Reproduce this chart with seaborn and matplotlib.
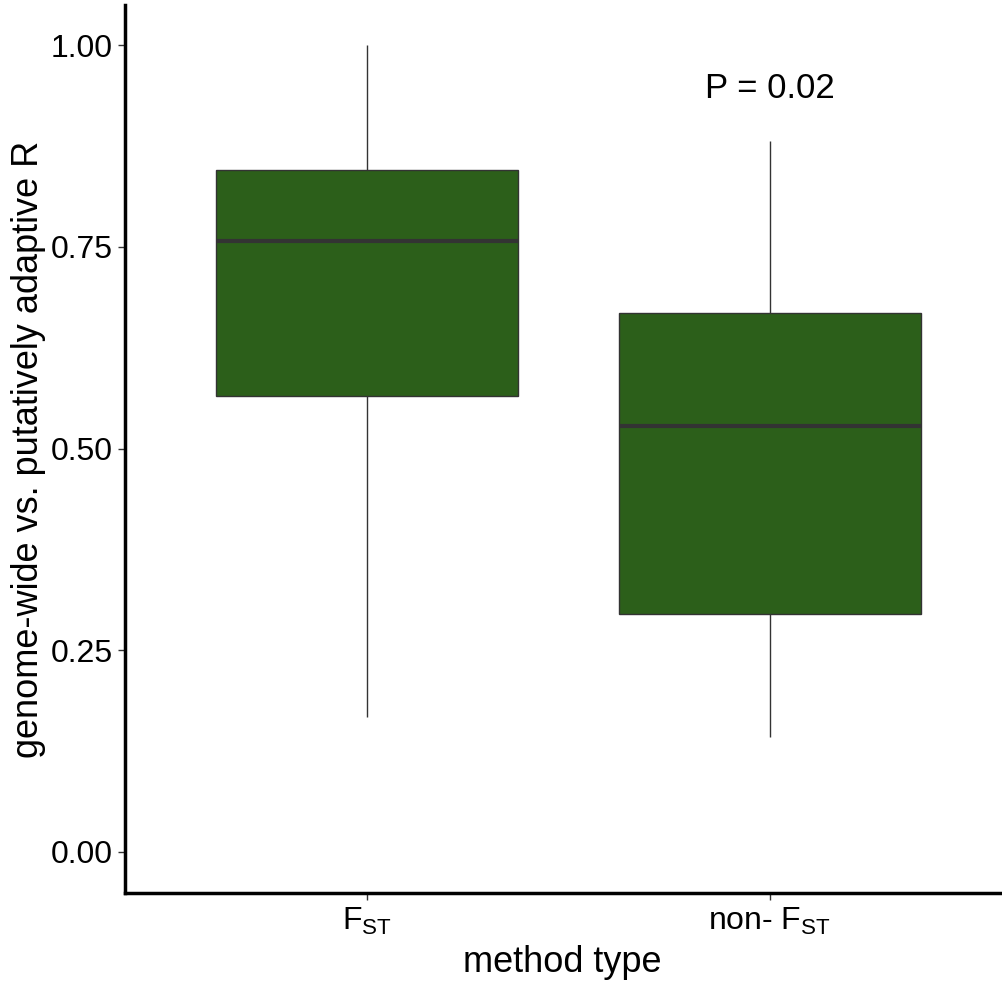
import matplotlib
matplotlib.use("Agg")
import matplotlib.pyplot as plt
import seaborn as sns
import pandas as pd
import numpy as np

categories = ["FST", "non-FST"]
tick_labels = [r"$\mathregular{F_{ST}}$", r"non- $\mathregular{F_{ST}}$"]
# five-number summaries: min, Q1, median, Q3, max
fst_values = [0.167, 0.565, 0.757, 0.845, 1.00]
nonfst_values = [0.1425, 0.295, 0.528, 0.668, 0.881]
p_label = "P = 0.02"
p_y = 0.947

df = pd.DataFrame({
    "method": [categories[0]] * len(fst_values) + [categories[1]] * len(nonfst_values),
    "R": fst_values + nonfst_values,
})

sns.set_style("white")
plt.rcParams["font.family"] = ["Liberation Sans", "DejaVu Sans"]
plt.rcParams["mathtext.fontset"] = "custom"
plt.rcParams["mathtext.rm"] = "Liberation Sans"

fig = plt.figure(figsize=(10.02, 9.88), dpi=100)
ax = fig.add_axes([125 / 1002, (988 - 893) / 988, (1000 - 125) / 1002, (893 - 5) / 988])

sns.boxplot(
    data=df, x="method", y="R", order=categories, ax=ax,
    color="#2C5F1A", saturation=1, width=0.75, whis=np.inf,
    linecolor="#333333", linewidth=1.0,
    medianprops=dict(color="#333333", linewidth=3),
    whiskerprops=dict(color="#333333", linewidth=1.0),
    capprops=dict(linewidth=0),
    boxprops=dict(edgecolor="#333333", linewidth=1.0),
)

ax.set_xlim(-0.6, 1.571)
ax.set_ylim(-0.051, 1.05)
ax.set_yticks([0, 0.25, 0.5, 0.75, 1.0])
ax.set_yticklabels(["0.00", "0.25", "0.50", "0.75", "1.00"])
ax.set_xticks([0, 1])
ax.set_xticklabels(tick_labels)

for s in ["top", "right"]:
    ax.spines[s].set_visible(False)
for s in ["left", "bottom"]:
    ax.spines[s].set_linewidth(2.5)
    ax.spines[s].set_color("black")

ax.tick_params(axis="both", which="major", length=5, width=1, color="#333333",
               labelsize=23, labelcolor="black", direction="out", left=True, bottom=True, pad=4)

ax.set_xlabel("method type", fontsize=26, labelpad=6, color="black")
ax.set_ylabel("genome-wide vs. putatively adaptive R", fontsize=26, labelpad=3, color="black")

ax.text(1, p_y, p_label, ha="center", va="center", fontsize=25, color="black")

fig.savefig("out.png", dpi=100)
